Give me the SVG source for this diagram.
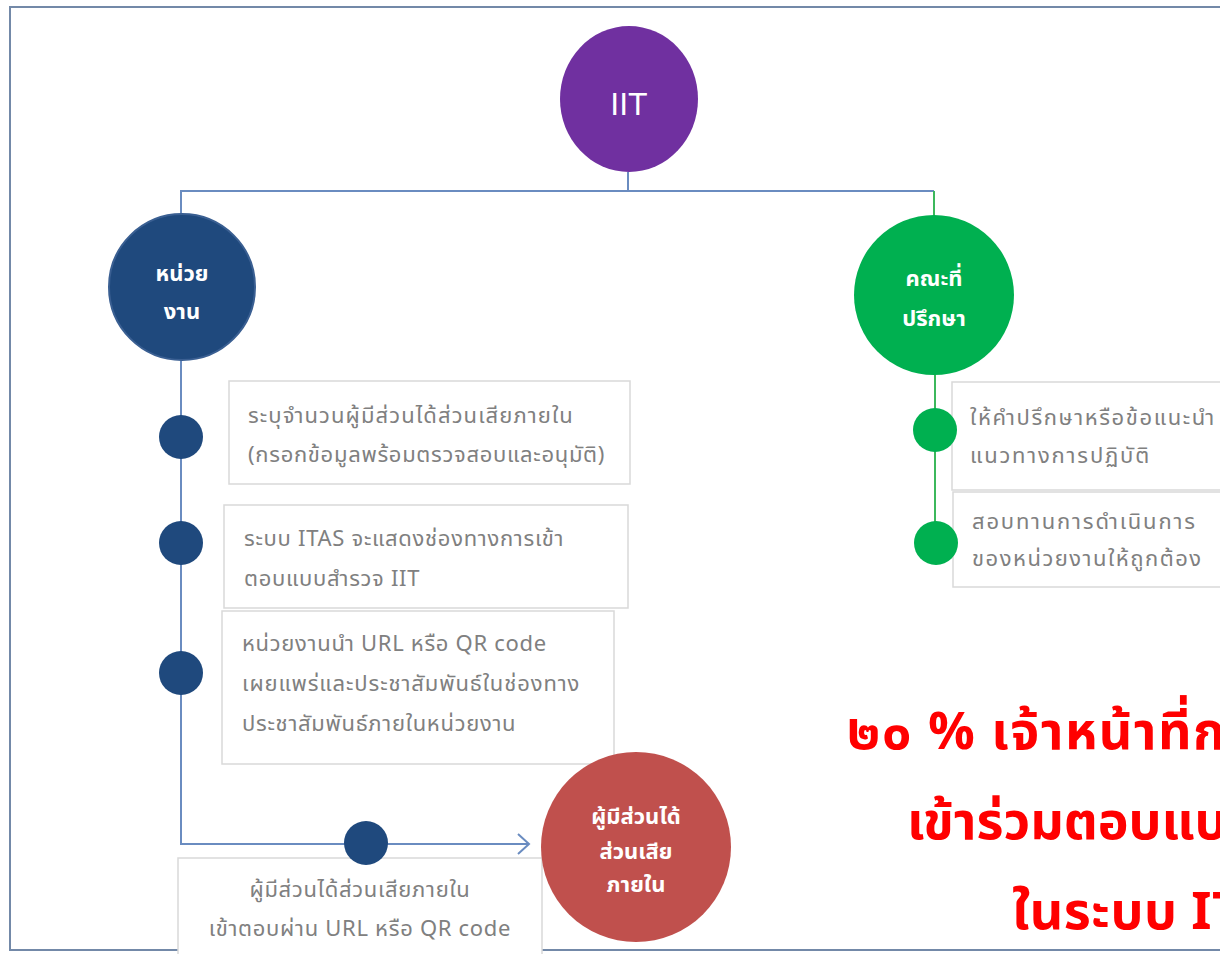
<svg xmlns="http://www.w3.org/2000/svg" width="1220" height="954" viewBox="0 0 1220 954">
<style>
  .frame{fill:none;stroke:#7389a8;stroke-width:2}
  .box{fill:#fff;stroke:#d9d9d9;stroke-width:1.5}
  .bt{font-family:"Noto Sans Thai","Noto Sans","DejaVu Sans",sans-serif;font-size:22px;letter-spacing:0.7px;fill:#808080}
  .wt{font-family:"Noto Sans Thai","Noto Sans","DejaVu Sans",sans-serif;font-size:22px;font-weight:bold;fill:#fff;text-anchor:middle}
  .blue{stroke:#6a8cc0;stroke-width:2;fill:none}
  .green{stroke:#3cb85c;stroke-width:2;fill:none}
  .dotb{fill:#1f497d}
  .dotg{fill:#00b050}
  .red{font-family:"Noto Sans Thai","Noto Sans","DejaVu Sans",sans-serif;font-size:52px;font-weight:bold;fill:#ff0000}
</style>
<defs>
  <marker id="arr" markerWidth="14" markerHeight="22" refX="12" refY="11" orient="auto" markerUnits="userSpaceOnUse">
    <path d="M1,1 L12,11 L1,21" fill="none" stroke="#6a8cc0" stroke-width="2"/>
  </marker>
</defs>
<rect width="1220" height="954" fill="#fff"/>
<rect class="frame" x="10" y="7" width="1230" height="943"/>

<g id="connectors">
  <path class="blue" d="M628,172 V191"/>
  <path class="blue" d="M181,217 V191 H934"/>
  <path class="green" d="M934,191 V216"/>
  <path class="blue" d="M181,358 V844 H529" marker-end="url(#arr)"/>
  <path class="green" d="M935,373 V543"/>
</g>

<g id="iit">
  <ellipse cx="629" cy="99" rx="69" ry="73" fill="#7030a0"/>
  <text x="629" y="115" font-family="Liberation Sans Narrow,Liberation Sans,sans-serif" font-size="32" fill="#fff" text-anchor="middle">IIT</text>
</g>

<g id="unit">
  <circle cx="182" cy="287" r="73" fill="#1f497d" stroke="#3a5f92" stroke-width="2"/>
  <text class="wt" x="182" y="281">หน่วย</text>
  <text class="wt" x="182" y="319">งาน</text>
</g>

<g id="advisor">
  <circle cx="934" cy="295" r="80" fill="#00b050"/>
  <text class="wt" x="934" y="286">คณะที่</text>
  <text class="wt" x="934" y="326">ปรึกษา</text>
</g>

<g id="step1">
  <rect class="box" x="229" y="381" width="401" height="103"/>
  <circle class="dotb" cx="181" cy="437" r="22"/>
  <text class="bt" x="248" y="423" style="letter-spacing:1.1px">ระบุจำนวนผู้มีส่วนได้ส่วนเสียภายใน</text>
  <text class="bt" x="248" y="462">(กรอกข้อมูลพร้อมตรวจสอบและอนุมัติ)</text>
</g>

<g id="step2">
  <rect class="box" x="224" y="505" width="404" height="103"/>
  <circle class="dotb" cx="181" cy="543" r="22"/>
  <text class="bt" x="244" y="546">ระบบ ITAS จะแสดงช่องทางการเข้า</text>
  <text class="bt" x="244" y="586">ตอบแบบสำรวจ IIT</text>
</g>

<g id="step3">
  <rect class="box" x="222" y="611" width="392" height="153"/>
  <circle class="dotb" cx="181" cy="673" r="22"/>
  <text class="bt" x="242" y="651">หน่วยงานนำ URL หรือ QR code</text>
  <text class="bt" x="242" y="691" style="letter-spacing:0.9px">เผยแพร่และประชาสัมพันธ์ในช่องทาง</text>
  <text class="bt" x="242" y="731">ประชาสัมพันธ์ภายในหน่วยงาน</text>
</g>

<g id="step4">
  <rect class="box" x="178" y="858" width="364" height="100"/>
  <circle class="dotb" cx="366" cy="843" r="22"/>
  <text class="bt" x="360" y="897" text-anchor="middle">ผู้มีส่วนได้ส่วนเสียภายใน</text>
  <text class="bt" x="360" y="936" text-anchor="middle">เข้าตอบผ่าน URL หรือ QR code</text>
</g>

<g id="stakeholder">
  <circle cx="636" cy="847" r="95" fill="#c0504d"/>
  <text class="wt" x="636" y="824" font-size="18">ผู้มีส่วนได้</text>
  <text class="wt" x="636" y="859" font-size="18">ส่วนเสีย</text>
  <text class="wt" x="636" y="892" font-size="18">ภายใน</text>
</g>

<g id="advice1">
  <rect class="box" x="952" y="382" width="290" height="108"/>
  <circle class="dotg" cx="935" cy="430" r="22"/>
  <text class="bt" x="970" y="425" style="letter-spacing:1.6px">ให้คำปรึกษาหรือข้อแนะนำ</text>
  <text class="bt" x="970" y="463" style="letter-spacing:1.8px">แนวทางการปฏิบัติ</text>
</g>

<g id="advice2">
  <rect class="box" x="953" y="492" width="290" height="95"/>
  <circle class="dotg" cx="936" cy="543" r="22"/>
  <text class="bt" x="972" y="529" style="letter-spacing:1.8px">สอบทานการดำเนินการ</text>
  <text class="bt" x="972" y="566" style="letter-spacing:1.5px">ของหน่วยงานให้ถูกต้อง</text>
</g>

<g id="note">
  <text class="red" x="847" y="749" style="letter-spacing:1.5px">๒๐ % เจ้าหน้าที่ก</text>
  <text class="red" x="907" y="839">เข้าร่วมตอบแบบ</text>
  <text class="red" x="1012" y="929" style="letter-spacing:0.5px">ในระบบ IT</text>
</g>
</svg>
